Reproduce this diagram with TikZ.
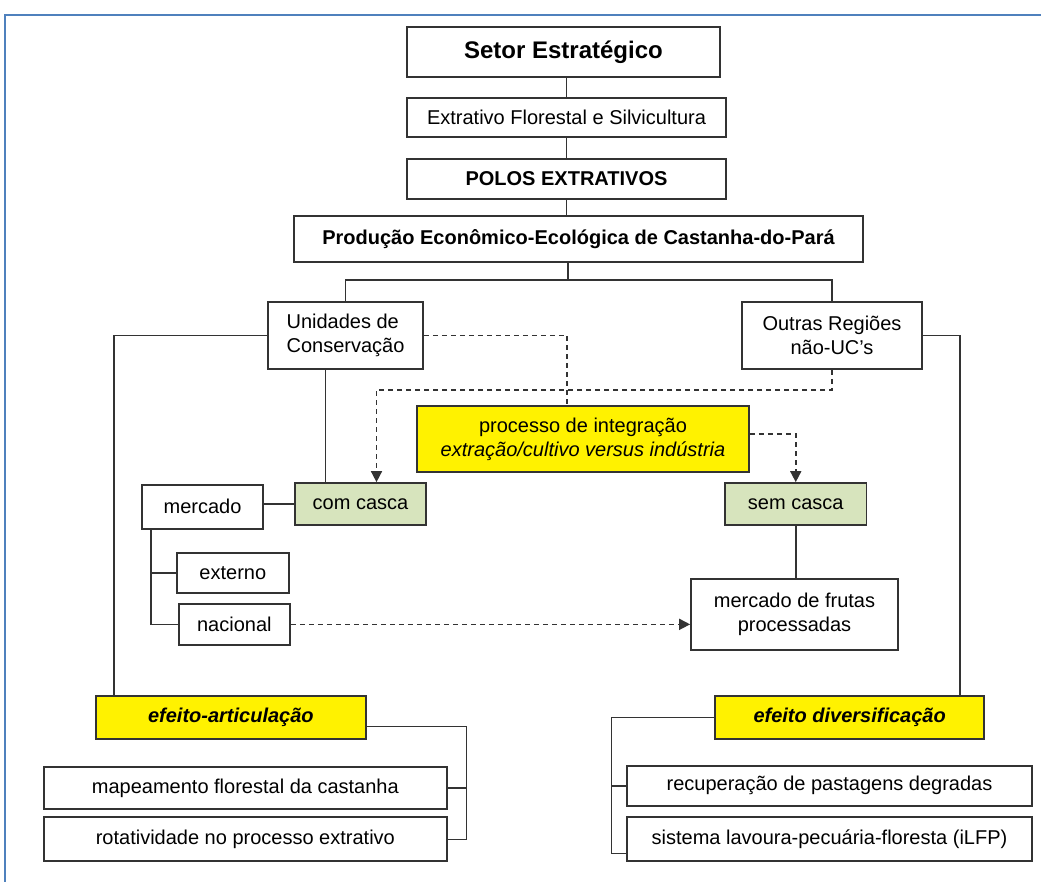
\documentclass[tikz,border=0pt]{standalone}
\usepackage{fontspec}
\setmainfont{Liberation Sans}
\usetikzlibrary{arrows.meta,positioning}
\definecolor{casca}{RGB}{215,228,189}
\definecolor{moldura}{RGB}{79,129,189}

\begin{document}
\begin{tikzpicture}[x=1pt, y=-1pt,
  box/.style={draw=black!80, line width=1.7pt, fill=white, inner sep=0pt, align=center, font=\fontsize{20}{24}\selectfont},
  title/.style={box, font=\fontsize{20}{24}\selectfont\bfseries},
  hilite/.style={box, fill=yellow},
  shell/.style={box, fill=casca},
  link/.style={draw=black!80, line width=1.6pt},
  dashline/.style={link, dash pattern=on 5pt off 4pt},
  dasharrow/.style={dashline, -{Triangle[width=11pt,length=11pt]}}]
\useasboundingbox (0,0) rectangle (1041,882);
\draw[moldura, line width=2.2pt] (5,882) -- (5,15) -- (1041,15);

\node[title, font=\fontsize{24}{28}\selectfont\bfseries, minimum width=313, minimum height=50] (setor) at (563.5,52) {Setor Estratégico};
\node[box, minimum width=319, minimum height=39] (extrativo) at (566.5,117.5) {Extrativo Florestal e Silvicultura};
\node[title, minimum width=319, minimum height=40] (polos) at (566.5,179) {POLOS EXTRATIVOS};
\node[title, minimum width=569, minimum height=46] (producao) at (578.5,239) {Produção Econômico-Ecológica de Castanha-do-Pará};
\node[box, align=left, minimum width=155, minimum height=67] (ucs) at (345.5,335.5) {Unidades de\\Conservação};
\node[box, minimum width=180, minimum height=67] (outras) at (832,335.5) {Outras Regiões\\não-UC's};
\node[hilite, minimum width=332, minimum height=66] (integ) at (583,439) {processo de integração\\\textit{extração/cultivo versus indústria}};
\node[shell, minimum width=131, minimum height=42] (comcasca) at (360.5,504) {com casca};
\node[shell, minimum width=141.5, minimum height=42] (semcasca) at (795.75,504) {sem casca};
\node[box, minimum width=121.6, minimum height=44] (mercado) at (202.5,506.7) {mercado};
\node[box, minimum width=111.7, minimum height=39.4] (externo) at (232.85,573) {externo};
\node[box, minimum width=111.3, minimum height=40.7] (nacional) at (234.35,624.35) {nacional};
\node[box, minimum width=207, minimum height=71] (frutas) at (794.5,614.2) {mercado de frutas\\processadas};
\node[hilite, font=\fontsize{20}{24}\selectfont\bfseries\itshape, minimum width=269.7, minimum height=42.7] (artic) at (230.85,717.35) {efeito-articulação};
\node[box, minimum width=402.7, minimum height=41.7] (mapeam) at (245.35,788.15) {mapeamento florestal da castanha};
\node[box, minimum width=402.7, minimum height=44] (rotat) at (245.35,839.3) {rotatividade no processo extrativo};
\node[hilite, font=\fontsize{20}{24}\selectfont\bfseries\itshape, minimum width=269.3, minimum height=42.7] (divers) at (849.65,717.35) {efeito diversificação};
\node[box, minimum width=404.4, minimum height=40] (recup) at (829.5,785.7) {recuperação de pastagens degradas};
\node[box, minimum width=404.4, minimum height=44] (sistema) at (829.5,839.3) {sistema lavoura-pecuária-floresta (iLFP)};

\coordinate (split) at (568,280);
\draw[link] (extrativo.north) -- (extrativo.north |- setor.south);
\draw[link] (extrativo.south) -- (extrativo.south |- polos.north);
\draw[link] (polos.south) -- (polos.south |- producao.north);
\draw[link] (split |- producao.south) -- (split);
\draw[link] (ucs.north) |- (split) -| (outras.north);
\draw[link] (ucs.west) -| ([xshift=19pt]artic.north west);
\draw[link] (outras.east) -| ([xshift=-25pt]divers.north east);
\draw[link] ([xshift=-20pt]ucs.south) -- ([xshift=-20pt]ucs.south |- comcasca.north);
\draw[dashline] (ucs.east) -| ([xshift=-16pt]integ.north);
\draw[dasharrow] (outras.south) -- ++(0,20) -| ([xshift=16pt]comcasca.north);
\draw[dasharrow] ([yshift=5pt]integ.east) -| (semcasca.north);
\draw[link] (comcasca.west) -- (comcasca.west -| mercado.east);
\draw[link] ([xshift=10pt]mercado.south west) |- (externo.west);
\draw[link] ([xshift=10pt]mercado.south west) |- (nacional.west);
\draw[dasharrow] (nacional.east) -- (nacional.east -| frutas.west);
\draw[link] (semcasca.south) -- (semcasca.south |- frutas.north);
\draw[link] ([yshift=-9pt]artic.east) -| ([xshift=19pt]rotat.east) -- (rotat.east);
\draw[link] (mapeam.east) -- ++(19,0);
\draw[link] (divers.west) -| ([xshift=-15pt,yshift=-14pt]sistema.west) -- ([yshift=-14pt]sistema.west);
\draw[link] (recup.west) -- ++(-15,0);
\end{tikzpicture}
\end{document}
